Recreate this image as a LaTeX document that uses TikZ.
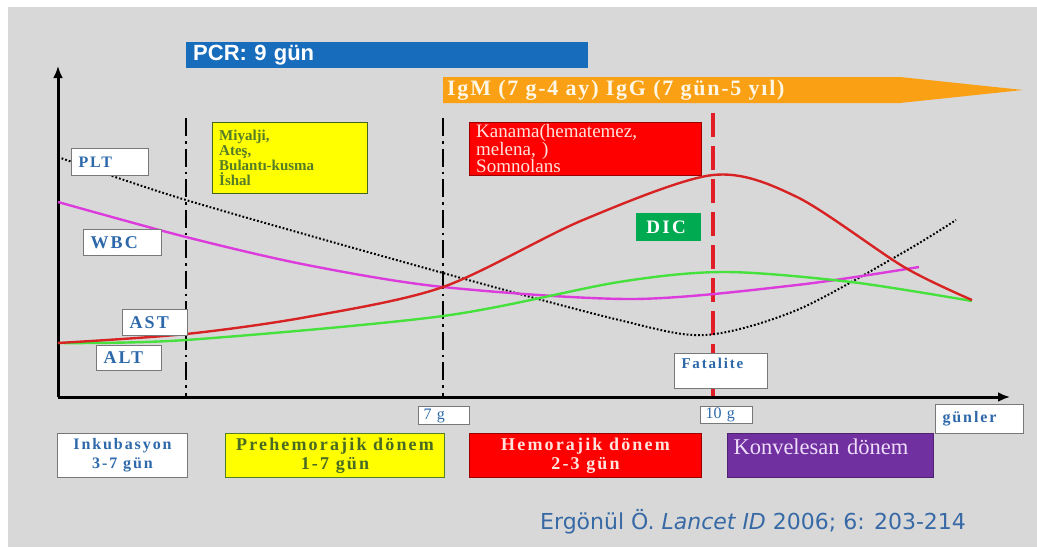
\documentclass[tikz,border=0pt]{standalone}
\usepackage{fontspec}
\setmainfont{Liberation Serif}
\setsansfont{Liberation Sans}
\newfontfamily\spaced[LetterSpace=8]{Liberation Serif}
\newfontfamily\wide[LetterSpace=12]{Liberation Serif}
\newfontfamily\citefont{DejaVu Sans}
\usetikzlibrary{arrows.meta}

\definecolor{bggray}{RGB}{216,216,216}
\definecolor{framegray}{RGB}{120,120,120}
\definecolor{pcrblue}{RGB}{24,108,188}
\definecolor{igorange}{RGB}{250,160,20}
\definecolor{igtext}{RGB}{255,246,228}
\definecolor{lblblue}{RGB}{45,105,170}
\definecolor{olivetext}{RGB}{85,125,40}
\definecolor{boxred}{RGB}{255,0,0}
\definecolor{hemtext}{RGB}{255,228,222}
\definecolor{boxyellow}{RGB}{255,255,0}
\definecolor{konvpurple}{RGB}{112,48,160}
\definecolor{konvtext}{RGB}{238,222,250}
\definecolor{dicgreen}{RGB}{0,170,80}
\definecolor{astred}{RGB}{215,35,35}
\definecolor{altgreen}{RGB}{70,225,60}
\definecolor{wbcmag}{RGB}{220,60,220}
\definecolor{fatred}{RGB}{225,30,40}
\definecolor{citeblue}{RGB}{55,105,165}

\tikzset{%
  tag/.style={% white labels on the chart
    draw=framegray, fill=white, line width=1pt, anchor=north west,
    inner xsep=7pt, inner ysep=0pt, align=left, text=lblblue,
    font=\wide\bfseries\fontsize{18}{19}\selectfont
  },
  period/.style={% the boxes under the time axis
    draw=framegray, line width=1pt, anchor=north west, inner sep=0pt,
    align=center, font=\wide\bfseries\fontsize{18}{19}\selectfont
  },
  curve/.style={line width=2.4pt}, % lab values
  divider/.style={line width=2.5pt, dash pattern=on 18pt off 5pt on 2.5pt off 5pt},
  axis/.style={line width=3pt, -{Latex[length=12pt, width=10pt]}}
}

\begin{document}
\begin{tikzpicture}[x=1pt, y=-1pt]
  \useasboundingbox (0,0) rectangle (1037,547);
  \fill[bggray] (8,7) rectangle (1037,547);

  % bars on top
  \node[fill=pcrblue, anchor=north west, minimum height=26pt, text width=388pt,
        inner xsep=7pt, inner ysep=0pt, text=white,
        font=\sffamily\bfseries\fontsize{22}{23}\selectfont] (pcr) at (186,42) {PCR: 9 gün};
  \fill[igorange] (443,77) -- (900,77) -- (1023,90) -- (900,103) -- (443,103) -- cycle;
  \node[anchor=west, inner sep=0pt, text=igtext,
        font=\spaced\bfseries\fontsize{22}{24}\selectfont] (igm) at (447,90) {IgM (7 g-4 ay) IgG (7 gün-5 yıl)};

  % axes and dividers
  \coordinate (o) at (58,397);
  \coordinate (ytop) at (58,66);
  \coordinate (xend) at (1010,397);
  \coordinate (d1) at (186,118);
  \coordinate (d2) at (443,118);
  \coordinate (fat) at (713,113);
  \draw[divider] (d1) -- (d1 |- o);
  \draw[divider] (d2) -- (d2 |- o);
  \draw[fatred, line width=4pt, dash pattern=on 24pt off 9pt] (fat) -- (fat |- o);
  \draw[axis] (o) -- (ytop);
  \draw[axis] (o) -- (xend);

  % symptom boxes
  \node[draw=olivetext!80!black, fill=boxyellow, anchor=north west, minimum height=71pt,
        text width=141pt, inner xsep=7pt, inner ysep=0pt, align=left, text=olivetext,
        font=\bfseries\fontsize{15}{15}\selectfont] (sym) at (212,122)
        {Miyalji,\\Ateş,\\Bulantı-kusma\\İshal};
  \node[draw=boxred!60!black, fill=boxred, anchor=north west, minimum height=53pt,
        text width=218pt, inner xsep=7pt, inner ysep=0pt, align=left, text=hemtext,
        font=\fontsize{19}{17.5}\selectfont] (bleed) at (469,122)
        {Kanama(hematemez,\\melena, )\\Somnolans};
  \node[fill=dicgreen, anchor=north west, minimum height=28pt, text width=51pt,
        inner xsep=7pt, inner ysep=0pt, align=left, text=white,
        font=\wide\bfseries\fontsize{19}{19}\selectfont] (dic) at (636,213) {\,DIC};

  % curves
  \draw[curve, black, line width=2pt, dash pattern=on 1.8pt off 2pt] plot[smooth] coordinates
    {(58,157) (186,200) (443,273) (619,320) (705,335) (797,310) (904,252) (956,220)};
  \draw[curve, wbcmag] plot[smooth] coordinates
    {(58,202) (186,237) (307,265) (443,287) (633,299) (797,285) (919,267)};
  \draw[curve, altgreen] plot[smooth] coordinates
    {(58,343) (186,340) (443,316) (619,282) (725,272) (851,282) (972,301)};
  \draw[curve, astred] plot[smooth] coordinates
    {(58,343) (186,334) (307,317) (443,287) (583,220) (713,175) (797,197) (904,267) (972,300)};

  % labels of the curves
  \node[tag, minimum height=27pt, text width=63pt, font=\wide\bfseries\fontsize{16}{17}\selectfont]
    (plt) at (71,148) {PLT};
  \node[tag, minimum height=26pt, text width=64pt] (wbc) at (83,229) {WBC};
  \node[tag, minimum height=26pt, text width=51pt] (ast) at (122,309) {AST};
  \node[tag, minimum height=25pt, text width=51pt] (alt) at (96,345) {ALT};
  \node[tag, minimum height=35pt, text width=79pt, font=\wide\bfseries\fontsize{15}{16}\selectfont]
    (fatal) at (674,353) {Fatalite\\~};

  % day marks
  \node[tag, minimum height=18pt, text width=41pt, inner xsep=5pt,
        font=\fontsize{16}{16}\selectfont] (d7) at (418,406) {7 g};
  \node[tag, minimum height=17pt, text width=42pt, inner xsep=5pt,
        font=\fontsize{16}{16}\selectfont] (d10) at (700,406) {10 g};
  \node[tag, minimum height=29pt, text width=74pt, font=\wide\bfseries\fontsize{16}{17}\selectfont]
    (days) at (935,404) {günler};

  % periods
  \node[period, fill=white, text=lblblue, minimum width=130pt, minimum height=44pt,
        font=\wide\bfseries\fontsize{16}{19}\selectfont]
    (inc) at (57,433) {Inkubasyon\\3-7 gün};
  \node[period, fill=boxyellow, draw=olivetext, text=olivetext!85!black, minimum width=219pt,
        minimum height=44pt] (pre) at (225,433) {Prehemorajik dönem\\1-7 gün};
  \node[period, fill=boxred, draw=boxred!60!black, text=hemtext, minimum width=232pt,
        minimum height=44pt] (hem) at (469,433) {Hemorajik dönem\\2-3 gün};
  \node[period, fill=konvpurple, draw=konvpurple!70!black, text=konvtext, text width=194pt,
        inner xsep=6pt, minimum height=44pt, align=left,
        font=\fontsize{22.5}{22}\selectfont] (konv) at (727,433) {Konvelesan dönem\\[-4pt]~};

  % source
  \node[anchor=west, inner sep=0pt, text=citeblue, font=\citefont\fontsize{22}{24}\selectfont]
    (src) at (540,522) {Ergönül Ö. \textit{Lancet ID} 2006; 6: 203-214};
\end{tikzpicture}
\end{document}
